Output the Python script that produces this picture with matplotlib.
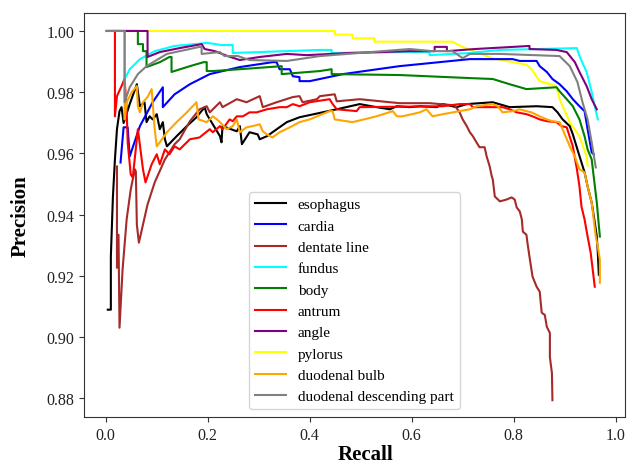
import numpy as np
import matplotlib
matplotlib.use("Agg")
import matplotlib.pyplot as plt

plt.rcParams['font.family'] = ['Liberation Serif', 'DejaVu Serif']

# recall / precision pairs
esophagus_r = [0.004, 0.010, 0.010, 0.014, 0.018, 0.022, 0.027, 0.031, 0.035, 0.047, 0.061, 0.067, 0.076,
               0.080, 0.086, 0.092, 0.100, 0.106, 0.112, 0.116, 0.120, 0.139, 0.159, 0.178, 0.194, 0.198,
               0.224, 0.227, 0.229, 0.257, 0.263, 0.267, 0.282, 0.298, 0.302, 0.316, 0.355, 0.380, 0.453,
               0.498, 0.531, 0.557, 0.571, 0.596, 0.616, 0.649, 0.661, 0.688, 0.708, 0.759, 0.792, 0.845,
               0.876, 0.886, 0.896, 0.910, 0.916, 0.925, 0.933, 0.939, 0.945, 0.953, 0.959, 0.963, 0.965, 0.967]
esophagus_p = [0.9089, 0.9089, 0.9262, 0.9456, 0.9580, 0.9679, 0.9738, 0.9751, 0.9699, 0.9761, 0.9826, 0.9754,
               0.9767, 0.9702, 0.9721, 0.9711, 0.9728, 0.9679, 0.9702, 0.9646, 0.9623, 0.9656, 0.9689, 0.9718,
               0.9751, 0.9728, 0.9656, 0.9636, 0.9689, 0.9672, 0.9689, 0.9630, 0.9669, 0.9662, 0.9646, 0.9656,
               0.9702, 0.9718, 0.9744, 0.9761, 0.9751, 0.9744, 0.9754, 0.9751, 0.9754, 0.9751, 0.9761, 0.9751,
               0.9761, 0.9767, 0.9751, 0.9754, 0.9751, 0.9734, 0.9711, 0.9689, 0.9662, 0.9613, 0.9570, 0.9538,
               0.9492, 0.9439, 0.9374, 0.9328, 0.9275, 0.9203]

cardia_r = [0.029, 0.035, 0.043, 0.047, 0.067, 0.092, 0.112, 0.112, 0.135, 0.165, 0.204, 0.263, 0.327, 0.335,
            0.341, 0.361, 0.367, 0.380, 0.380, 0.400, 0.465, 0.576, 0.714, 0.798, 0.812, 0.845, 0.851, 0.865,
            0.876, 0.890, 0.904, 0.916, 0.929, 0.939, 0.945, 0.953, 0.957]
cardia_p = [0.9570, 0.9685, 0.9685, 0.9590, 0.9689, 0.9767, 0.9816, 0.9751, 0.9793, 0.9826, 0.9859, 0.9882,
            0.9898, 0.9898, 0.9875, 0.9875, 0.9852, 0.9849, 0.9836, 0.9836, 0.9859, 0.9885, 0.9908, 0.9908,
            0.9902, 0.9902, 0.9885, 0.9866, 0.9843, 0.9826, 0.9803, 0.9777, 0.9754, 0.9738, 0.9679, 0.9603, 0.9597]

dentate_r = [0.022, 0.022, 0.024, 0.025, 0.027, 0.033, 0.041, 0.049, 0.057, 0.059, 0.061, 0.065, 0.073, 0.082,
             0.096, 0.116, 0.135, 0.145, 0.165, 0.184, 0.198, 0.204, 0.224, 0.229, 0.257, 0.276, 0.302, 0.308,
             0.335, 0.367, 0.380, 0.386, 0.414, 0.420, 0.449, 0.453, 0.498, 0.576, 0.635, 0.684, 0.694, 0.700,
             0.708, 0.714, 0.720, 0.727, 0.733, 0.743, 0.747, 0.753, 0.757, 0.759, 0.763, 0.773, 0.786, 0.796,
             0.802, 0.806, 0.812, 0.816, 0.818, 0.825, 0.827, 0.831, 0.837, 0.845, 0.851, 0.855, 0.861, 0.865,
             0.871, 0.871, 0.875, 0.876]
dentate_p = [0.9557, 0.9226, 0.9334, 0.9334, 0.9030, 0.9220, 0.9384, 0.9482, 0.9548, 0.9541, 0.9367, 0.9308,
             0.9367, 0.9433, 0.9505, 0.9580, 0.9630, 0.9646, 0.9705, 0.9744, 0.9754, 0.9734, 0.9767, 0.9751,
             0.9777, 0.9767, 0.9787, 0.9751, 0.9767, 0.9784, 0.9787, 0.9767, 0.9777, 0.9787, 0.9793, 0.9770,
             0.9777, 0.9764, 0.9764, 0.9757, 0.9734, 0.9711, 0.9689, 0.9669, 0.9656, 0.9636, 0.9620, 0.9620,
             0.9590, 0.9557, 0.9525, 0.9515, 0.9459, 0.9443, 0.9449, 0.9456, 0.9449, 0.9423, 0.9410, 0.9384,
             0.9344, 0.9334, 0.9308, 0.9262, 0.9197, 0.9164, 0.9148, 0.9079, 0.9072, 0.9033, 0.9013, 0.8934,
             0.8882, 0.8793]

fundus_r = [0.035, 0.047, 0.067, 0.096, 0.135, 0.200, 0.227, 0.249, 0.249, 0.420, 0.443, 0.443, 0.596, 0.635,
            0.635, 0.714, 0.773, 0.924, 0.929, 0.943, 0.953, 0.959, 0.965]
fundus_p = [0.9836, 0.9875, 0.9908, 0.9934, 0.9951, 0.9961, 0.9954, 0.9954, 0.9928, 0.9938, 0.9938, 0.9928,
            0.9931, 0.9931, 0.9921, 0.9928, 0.9938, 0.9944, 0.9918, 0.9866, 0.9800, 0.9754, 0.9711]

body_r = [0.002, 0.063, 0.063, 0.073, 0.073, 0.080, 0.080, 0.106, 0.125, 0.129, 0.129, 0.165, 0.192, 0.198,
          0.198, 0.210, 0.263, 0.345, 0.345, 0.420, 0.443, 0.443, 0.576, 0.714, 0.759, 0.792, 0.825, 0.884,
          0.890, 0.904, 0.916, 0.929, 0.939, 0.945, 0.953, 0.963, 0.969]
body_p = [1.0, 1.0, 0.9957, 0.9957, 0.9934, 0.9934, 0.9882, 0.9898, 0.9915, 0.9915, 0.9866, 0.9885, 0.9898,
          0.9898, 0.9869, 0.9869, 0.9875, 0.9885, 0.9859, 0.9869, 0.9875, 0.9859, 0.9856, 0.9846, 0.9843,
          0.9826, 0.9810, 0.9816, 0.9803, 0.9777, 0.9754, 0.9711, 0.9656, 0.9613, 0.9580, 0.9439, 0.9328]

antrum_r = [0.018, 0.018, 0.022, 0.031, 0.037, 0.041, 0.043, 0.049, 0.053, 0.063, 0.073, 0.078, 0.090, 0.100,
            0.106, 0.116, 0.125, 0.135, 0.145, 0.165, 0.184, 0.204, 0.210, 0.224, 0.229, 0.243, 0.249, 0.257,
            0.269, 0.282, 0.296, 0.316, 0.341, 0.355, 0.367, 0.380, 0.400, 0.439, 0.445, 0.453, 0.492, 0.498,
            0.661, 0.694, 0.714, 0.720, 0.778, 0.792, 0.806, 0.825, 0.837, 0.851, 0.865, 0.884, 0.894, 0.904,
            0.916, 0.924, 0.929, 0.933, 0.939, 0.945, 0.951, 0.955, 0.959]
antrum_p = [1.0, 0.9721, 0.9787, 0.9820, 0.9843, 0.9744, 0.9636, 0.9531, 0.9521, 0.9679, 0.9548, 0.9505,
            0.9564, 0.9597, 0.9564, 0.9613, 0.9597, 0.9623, 0.9613, 0.9646, 0.9652, 0.9679, 0.9669, 0.9689,
            0.9679, 0.9711, 0.9705, 0.9721, 0.9721, 0.9734, 0.9734, 0.9744, 0.9751, 0.9751, 0.9761, 0.9754,
            0.9767, 0.9777, 0.9761, 0.9744, 0.9738, 0.9751, 0.9754, 0.9761, 0.9761, 0.9751, 0.9751, 0.9744,
            0.9734, 0.9728, 0.9721, 0.9711, 0.9705, 0.9702, 0.9689, 0.9685, 0.9623, 0.9548, 0.9492, 0.9426,
            0.9384, 0.9328, 0.9275, 0.9220, 0.9164]

angle_r = [0.002, 0.082, 0.082, 0.106, 0.145, 0.188, 0.194, 0.214, 0.239, 0.263, 0.302, 0.355, 0.394, 0.478,
           0.596, 0.645, 0.645, 0.669, 0.669, 0.724, 0.831, 0.831, 0.884, 0.904, 0.920, 0.929, 0.943, 0.953, 0.963]
angle_p = [1.0, 1.0, 0.9915, 0.9931, 0.9944, 0.9957, 0.9941, 0.9934, 0.9918, 0.9905, 0.9915, 0.9925, 0.9921,
           0.9928, 0.9934, 0.9934, 0.9948, 0.9948, 0.9934, 0.9941, 0.9951, 0.9941, 0.9938, 0.9931, 0.9898,
           0.9866, 0.9820, 0.9777, 0.9744]

pylorus_r = [0.002, 0.449, 0.449, 0.484, 0.484, 0.527, 0.527, 0.680, 0.698, 0.759, 0.825, 0.835, 0.851, 0.884,
             0.890, 0.910, 0.929, 0.943, 0.945]
pylorus_p = [1.0, 1.0, 0.9988, 0.9988, 0.9976, 0.9976, 0.9965, 0.9965, 0.9949, 0.9910, 0.9890, 0.9875, 0.9836,
             0.9820, 0.9777, 0.9702, 0.9656, 0.9590, 0.9560]

bulb_r = [0.002, 0.037, 0.037, 0.041, 0.051, 0.061, 0.063, 0.067, 0.073, 0.082, 0.090, 0.096, 0.100, 0.106,
          0.120, 0.139, 0.159, 0.178, 0.182, 0.198, 0.210, 0.218, 0.224, 0.237, 0.249, 0.257, 0.263, 0.276,
          0.288, 0.302, 0.308, 0.316, 0.327, 0.341, 0.361, 0.380, 0.400, 0.439, 0.445, 0.449, 0.484, 0.531,
          0.563, 0.571, 0.582, 0.616, 0.629, 0.641, 0.661, 0.694, 0.714, 0.727, 0.759, 0.769, 0.778, 0.798,
          0.812, 0.825, 0.835, 0.851, 0.865, 0.876, 0.890, 0.896, 0.910, 0.920, 0.929, 0.939, 0.945, 0.953,
          0.957, 0.961, 0.965, 0.969, 0.969]
bulb_p = [1.0, 1.0, 0.9711, 0.9767, 0.9800, 0.9820, 0.9754, 0.9734, 0.9767, 0.9784, 0.9810, 0.9679, 0.9623,
          0.9636, 0.9669, 0.9702, 0.9734, 0.9767, 0.9711, 0.9702, 0.9721, 0.9711, 0.9702, 0.9679, 0.9689,
          0.9711, 0.9669, 0.9685, 0.9689, 0.9695, 0.9672, 0.9662, 0.9652, 0.9669, 0.9685, 0.9702, 0.9711,
          0.9738, 0.9738, 0.9711, 0.9702, 0.9721, 0.9738, 0.9721, 0.9721, 0.9734, 0.9744, 0.9721, 0.9728,
          0.9738, 0.9744, 0.9754, 0.9761, 0.9754, 0.9734, 0.9738, 0.9744, 0.9738, 0.9734, 0.9721, 0.9711,
          0.9705, 0.9702, 0.9679, 0.9623, 0.9590, 0.9548, 0.9538, 0.9492, 0.9439, 0.9384, 0.9328, 0.9295,
          0.9252, 0.9177]

descending_r = [0.002, 0.037, 0.037, 0.047, 0.063, 0.080, 0.120, 0.184, 0.188, 0.188, 0.224, 0.233, 0.259,
                0.282, 0.355, 0.420, 0.596, 0.641, 0.680, 0.700, 0.714, 0.773, 0.890, 0.910, 0.925, 0.935,
                0.945, 0.953, 0.961]
descending_p = [1.0, 1.0, 0.9767, 0.9816, 0.9859, 0.9885, 0.9925, 0.9948, 0.9948, 0.9925, 0.9931, 0.9918,
                0.9918, 0.9905, 0.9902, 0.9918, 0.9941, 0.9934, 0.9934, 0.9911, 0.9925, 0.9925, 0.9918,
                0.9885, 0.9833, 0.9767, 0.9711, 0.9636, 0.9554]

names = ['esophagus', 'cardia', 'dentate line', 'fundus', 'body', 'antrum', 'angle', 'pylorus',
         'duodenal bulb', 'duodenal descending part']
colors = ['black', 'blue', 'brown', 'cyan', 'green', 'red', 'purple', 'yellow', 'orange', 'gray']
curves = [(esophagus_r, esophagus_p), (cardia_r, cardia_p), (dentate_r, dentate_p), (fundus_r, fundus_p),
          (body_r, body_p), (antrum_r, antrum_p), (angle_r, angle_p), (pylorus_r, pylorus_p),
          (bulb_r, bulb_p), (descending_r, descending_p)]

fig = plt.figure(figsize=(6.35, 4.64), dpi=100)
ax = fig.add_axes([0.132, 0.099, 0.852, 0.871])

# yellow goes down first so the other curves sit on top of it
order = [7, 0, 1, 2, 3, 4, 5, 6, 8, 9]
lines = {}
for i in order:
    r, p = curves[i]
    ln, = ax.plot(r, p, color=colors[i], lw=1.5, label=names[i])
    lines[i] = ln

for s in ax.spines.values():
    s.set_color('#333333')

yt = [0.88, 0.90, 0.92, 0.94, 0.96, 0.98, 1.00]
ax.set_xticks([0.0, 0.2, 0.4, 0.6, 0.8, 1.0])
ax.set_yticks(yt)
ax.set_yticklabels(['%.2f' % v for v in yt])
ax.tick_params(labelsize=11.5, color='#333333', labelcolor='#222222')
ax.set_xlim(-0.043, 1.018)
ax.set_ylim(0.8738, 1.0059)
ax.set_xlabel('Recall', fontsize=15, fontweight='bold')
ax.set_ylabel('Precision', fontsize=15, fontweight='bold')
ax.xaxis.set_label_coords(0.52, -0.066)
ax.yaxis.set_label_coords(-0.098, 0.5)

ax.legend([lines[i] for i in range(10)], names, loc='lower center', fontsize=11,
          borderaxespad=0.5, handlelength=2.0)

fig.savefig('out.png', dpi=100)
